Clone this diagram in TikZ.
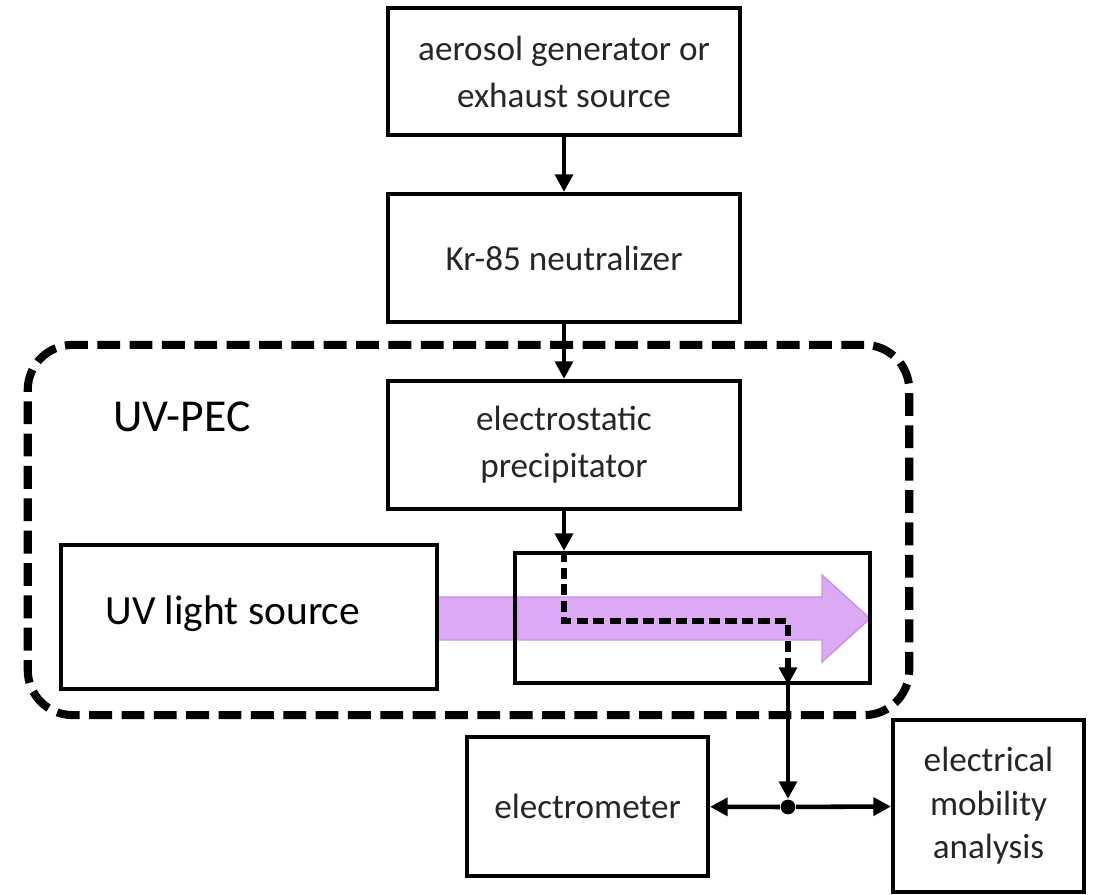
\documentclass[tikz,border=0pt]{standalone}
\usepackage{fontspec}
\setmainfont{Carlito}
\usetikzlibrary{arrows.meta, positioning}
\definecolor{uvviolet}{RGB}{220,170,244}
\definecolor{uvedge}{RGB}{200,146,228}
\tikzset{
    block/.style={
        rectangle, draw=black, line width=1.1pt, text=black!85,
        minimum width=3.52cm, minimum height=1.28cm,
        align=center, font=\fontsize{10}{13.4}\selectfont
    },
    cell/.style={rectangle, draw=black, line width=1.1pt},
    wire/.style={draw=black, line width=1.3pt, -{Triangle[length=5pt,width=5pt]}},
    flowpath/.style={draw=black, line width=1.5pt, dash pattern=on 3.2pt off 1.5pt,
        -{Triangle[length=5pt,width=5pt]}},
    pecframe/.style={draw=black, line width=2.3pt, dash pattern=on 6.5pt off 2.7pt,
        rounded corners=0.45cm},
    junction/.style={circle, fill=black, inner sep=0pt, minimum size=4.2pt},
    uvbeam/.style={fill=uvviolet, draw=uvedge, line width=0.4pt}
}

\begin{document}
\begin{tikzpicture}[x=0.01cm, y=-0.01cm, node distance=0.55cm]
\useasboundingbox (0,0) rectangle (1094,895);

% Aerosol train (top)
\node[block, minimum height=1.27cm] (src) at (564,71.5) {aerosol generator or\\exhaust source};
\node[block, below=of src] (neut) {Kr-85 neutralizer};
\node[block, below=of neut] (esp) {electrostatic\\precipitator};

% UV-PEC frame
\node[pecframe, minimum width=8.81cm, minimum height=3.7cm] (pec) at (468.5,530) {};
\node[font=\fontsize{13}{15}\selectfont, anchor=base] (peclabel) at (182,432) {UV-PEC};

% UV beam
\path[uvbeam] (437,597) -- (822,597) -- (822,575) -- (870,618.5)
    -- (822,662) -- (822,640) -- (437,640) -- cycle;

% Light source and exposure cell
\node[cell, minimum width=3.76cm, minimum height=1.44cm] (uvsrc) at (249,617) {};
\node[font=\fontsize{11.8}{14}\selectfont, anchor=base west] (uvlabel) at (93,625) {UV light source};
\node[cell, minimum width=3.55cm, minimum height=1.3cm] (expcell) at (692.5,618) {};

% Detectors (bottom)
\node[block, minimum width=2.41cm, minimum height=1.39cm] (meter) at (587.5,806.5) {electrometer};
\node[block, minimum width=1.91cm, minimum height=1.72cm, font=\fontsize{10}{12.4}\selectfont]
    (ema) at (988.5,806) {electrical\\mobility\\analysis};
\node[junction] (split) at (788,807) {};
\coordinate (turn) at (788,621);

% Connections
\draw[wire] (src) -- (neut);
\draw[wire] (neut) -- (esp);
\draw[wire] (esp) -- (esp.south |- expcell.north);
\draw[flowpath] (esp.south |- expcell.north) |- (turn) -- (turn |- expcell.south);
\draw[wire] (turn |- expcell.south) -- (split);
\draw[wire] (split) -- (meter);
\draw[wire] (split) -- (ema);

\end{tikzpicture}
\end{document}
